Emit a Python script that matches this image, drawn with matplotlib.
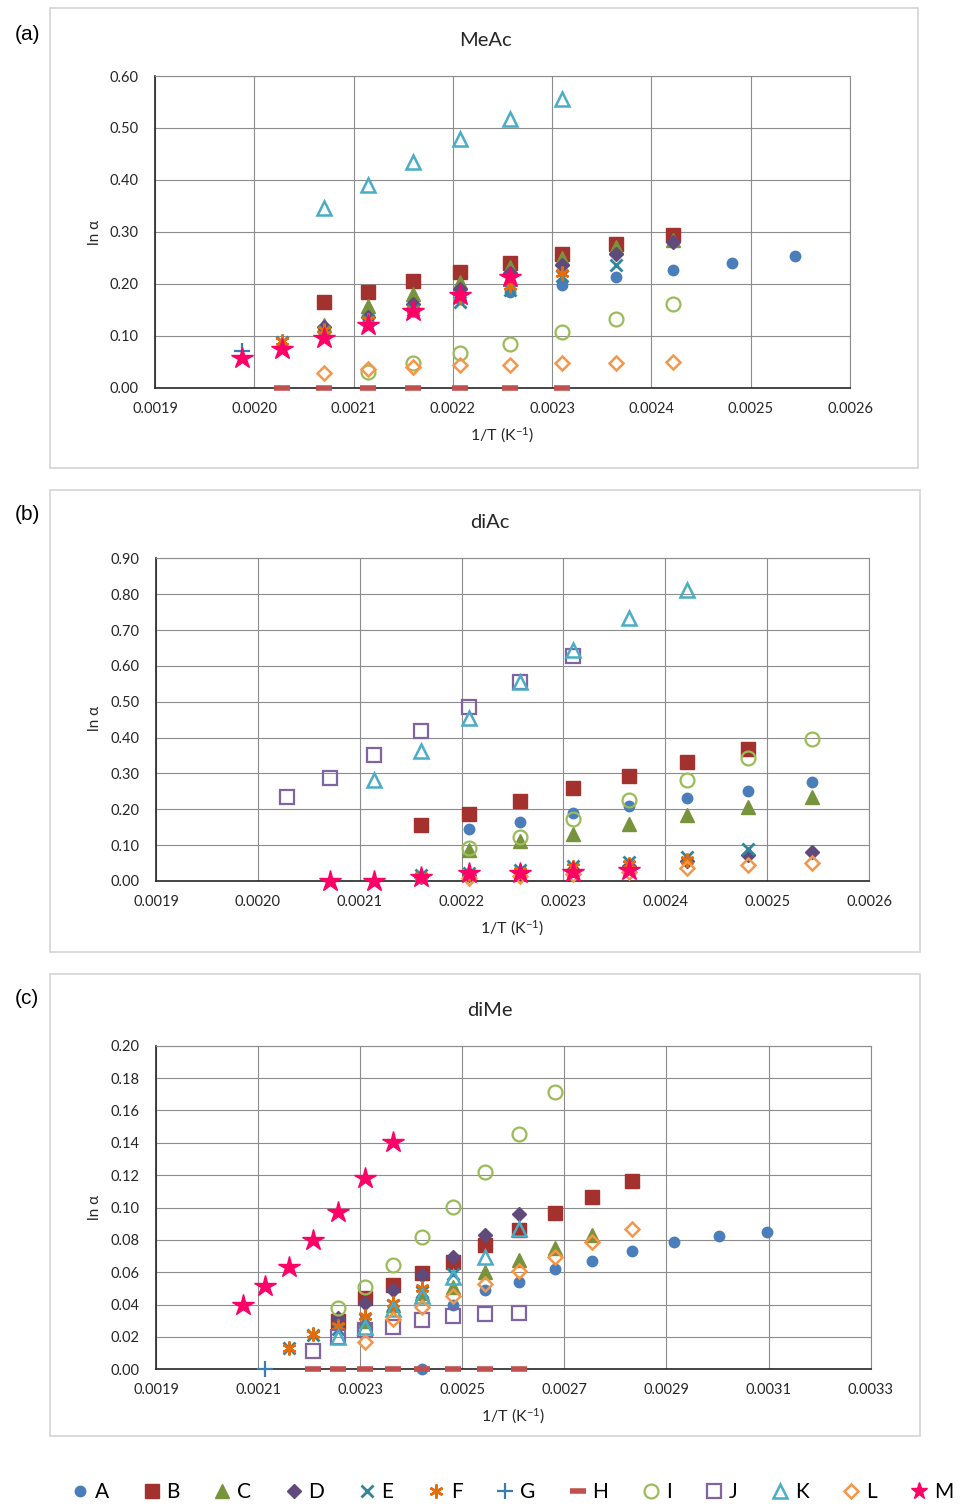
import numpy as np
import matplotlib
matplotlib.use('Agg')
import matplotlib.pyplot as plt
from matplotlib.patches import Rectangle
from matplotlib.lines import Line2D
from matplotlib.ticker import FormatStrFormatter, FixedLocator

plt.rcParams['font.family'] = ['Lato', 'DejaVu Sans']
plt.rcParams['mathtext.default'] = 'regular'

_ = None  # no measurement at this temperature

# ---- data: ln(alpha) vs temperature (K), one list per series ----
SERIES = ['A', 'B', 'C', 'D', 'E', 'F', 'G', 'H', 'I', 'J', 'K', 'L', 'M']

# (a) MeAc
T_MEAC = [503, 493, 483, 473, 463, 453, 443, 433, 423, 413, 403, 393]
MEAC_A = [_, _, .110, .130, .150, .170, .185, .198, .214, .226, .240, .253]
MEAC_B = [_, _, .165, .185, .205, .223, .240, .258, .276, .294, _, _]
MEAC_C = [_, _, .120, .157, .180, .204, .233, .249, .271, .284, _, _]
MEAC_D = [_, _, .117, .137, .162, .190, .220, .236, .258, .280, _, _]
MEAC_E = [_, .088, .110, .130, .150, .165, .188, .215, .236, _, _, _]
MEAC_F = [_, .090, .112, .130, .150, .175, .195, .220, _, _, _, _]
MEAC_G = [.070, _, _, _, _, _, _, _, _, _, _, _]
MEAC_H = [_, 0, 0, 0, 0, 0, 0, 0, _, _, _, _]
MEAC_I = [_, _, _, .031, .047, .066, .085, .108, .133, .162, _, _]
MEAC_J = [_, _, _, _, _, _, _, _, _, _, _, _]
MEAC_K = [_, _, .345, .390, .435, .478, .518, .555, _, _, _, _]
MEAC_L = [_, _, .029, .036, .040, .044, .044, .047, .048, .049, _, _]
MEAC_M = [.0565, .0745, .095, .120, .148, .178, .213, _, _, _, _, _]

# (b) diAc
T_DIAC = [503, 493, 483, 473, 463, 453, 443, 433, 423, 413, 403, 393]
DIAC_A = [_, _, _, _, _, .144, .165, .189, .209, .231, .252, .277]
DIAC_B = [_, _, _, _, .156, .187, .224, .260, .294, .331, .368, _]
DIAC_C = [_, _, _, _, _, .086, .112, .131, .159, .184, .207, .235]
DIAC_D = [_, _, _, _, .012, .018, .025, .032, .042, .055, .072, .080]
DIAC_E = [_, _, _, _, .018, .022, .032, .042, .052, .068, .088, _]
DIAC_F = [_, _, _, _, .015, .020, .028, .038, .048, .058, _, _]
DIAC_G = [_, _, _, _, _, _, _, _, _, _, _, _]
DIAC_H = [_, _, _, _, _, _, _, _, _, _, _, _]
DIAC_I = [_, _, _, _, _, .092, .124, .172, .226, .282, .342, .396]
DIAC_J = [_, .233, .287, .351, .418, .486, .556, .628, _, _, _, _]
DIAC_K = [_, _, _, .282, .363, .454, .556, .644, .733, .812, _, _]
DIAC_L = [_, _, _, _, _, .008, .015, .020, .025, .035, .045, .049]
DIAC_M = [_, _, .0, .0, .012, .021, .021, .026, .031, _, _, _]

# (c) diMe
T_DIME = [483, 473, 463, 453, 443, 433, 423, 413, 403, 393, 383, 373, 363, 353, 343, 333, 323]
DIME_A = [_, _, _, _, _, _, _, 0.0, .0397, .049, .0538, .062, .0669, .0731, .0785, .0824, .0847]
DIME_B = [_, _, _, _, .030, .044, .052, .0593, .0665, .0768, .086, .0964, .1063, .1166, _, _, _]
DIME_C = [_, _, _, _, _, .030, .040, .047, .051, .0603, .0675, .0748, .083, _, _, _, _]
DIME_D = [_, _, _, _, .032, .041, .049, .058, .0696, .083, .096, _, _, _, _, _, _]
DIME_E = [_, _, .013, .021, .025, .031, .040, .048, .059, _, _, _, _, _, _, _, _]
DIME_F = [_, _, .013, .022, .027, .033, .041, .050, _, _, _, _, _, _, _, _, _]
DIME_G = [_, 0.0, _, _, _, _, _, _, _, _, _, _, _, _, _, _, _]
DIME_H = [_, _, _, 0, 0, 0, 0, 0, 0, 0, 0, _, _, _, _, _, _]
DIME_I = [_, _, _, _, .038, .051, .0645, .082, .1005, .1217, .1452, .1716, _, _, _, _, _]
DIME_J = [_, _, _, .0115, .020, .024, .0263, .0305, .033, .034, .035, _, _, _, _, _, _]
DIME_K = [_, _, _, _, .020, .026, .037, .045, .057, .0696, .0865, _, _, _, _, _, _]
DIME_L = [_, _, _, _, _, .017, .031, .0387, .0453, .053, .0607, .0696, .0785, .0867, _, _, _]
DIME_M = [.0397, .0515, .0634, .0799, .0974, .118, .1407, _, _, _, _, _, _, _, _, _, _]

# marker style for each series (Excel-like scatter markers)
STYLE = {
    'A': dict(marker='o', color='#4A7EBB', ms=7.5),
    'B': dict(marker='s', color='#A3312D', ms=10),
    'C': dict(marker='^', color='#77933C', ms=10),
    'D': dict(marker='D', color='#604A7B', ms=7.5),
    'E': dict(marker='x', color='#31859C', ms=9, mew=2),
    'F': dict(marker=(6, 2, 0), color='#E46C0A', ms=10, mew=1.8),
    'G': dict(marker='+', color='#3A7DB5', ms=11, mew=1.6),
    'H': dict(marker='_', color='#C0504D', ms=11, mew=4),
    'I': dict(marker='o', color='#9BBB59', ms=10, mew=1.6, mfc='none'),
    'J': dict(marker='s', color='#8064A2', ms=10.5, mew=1.6, mfc='none'),
    'K': dict(marker='^', color='#4BACC6', ms=10, mew=1.8, mfc='none'),
    'L': dict(marker='D', color='#F79646', ms=7.5, mew=1.8, mfc='none'),
    'M': dict(marker='*', color='#FF0066', ms=16),
}

W, H = 962, 1506
fig = plt.figure(figsize=(W / 100, H / 100), dpi=100)


def fx(px):
    return px / W


def fy(py):
    return 1 - py / H


def marker_kw(st):
    kw = {}
    for k, v in st.items():
        if k == 'mew':
            kw['markeredgewidth'] = v
        elif k == 'mfc':
            kw['markerfacecolor'] = v
    return kw


panels = [
    dict(letter='(a)', title='MeAc', T=T_MEAC,
         data=[MEAC_A, MEAC_B, MEAC_C, MEAC_D, MEAC_E, MEAC_F, MEAC_G,
               MEAC_H, MEAC_I, MEAC_J, MEAC_K, MEAC_L, MEAC_M],
         box=(155, 76, 850, 387.7), frame=(50, 8, 918, 468),
         title_xy=(485, 40), letter_y=35, ylab_y=232, xlab_xy=(502, 435),
         xlim=(0.0019, 0.0026), xstep=0.0001, ylim=(0, 0.6), ystep=0.1),
    dict(letter='(b)', title='diAc', T=T_DIAC,
         data=[DIAC_A, DIAC_B, DIAC_C, DIAC_D, DIAC_E, DIAC_F, DIAC_G,
               DIAC_H, DIAC_I, DIAC_J, DIAC_K, DIAC_L, DIAC_M],
         box=(156, 558.3, 869, 881), frame=(50, 490, 920, 952),
         title_xy=(490, 523), letter_y=515, ylab_y=718, xlab_xy=(512, 928),
         xlim=(0.0019, 0.0026), xstep=0.0001, ylim=(0, 0.9), ystep=0.1),
    dict(letter='(c)', title='diMe', T=T_DIME,
         data=[DIME_A, DIME_B, DIME_C, DIME_D, DIME_E, DIME_F, DIME_G,
               DIME_H, DIME_I, DIME_J, DIME_K, DIME_L, DIME_M],
         box=(156, 1045.7, 870.7, 1369.3), frame=(50, 974, 920, 1436),
         title_xy=(490, 1010), letter_y=998, ylab_y=1207, xlab_xy=(513, 1416),
         xlim=(0.0019, 0.0033), xstep=0.0002, ylim=(0, 0.2), ystep=0.02),
]

for p in panels:
    # light chart-area border
    x0, y0, x1, y1 = p['frame']
    fig.add_artist(Rectangle((fx(x0), fy(y1)), fx(x1 - x0), (y1 - y0) / H,
                             transform=fig.transFigure, fill=False,
                             edgecolor='#d4d4d4', lw=1.2, zorder=-1))

    l, t, r, b = p['box']
    ax = fig.add_axes([fx(l), fy(b), fx(r - l), (b - t) / H])
    inv_t = 1.0 / np.array(p['T'], dtype=float)
    for name, vals in zip(SERIES, p['data']):
        y = np.array(vals, dtype=float)
        st = STYLE[name]
        ax.plot(inv_t, y, linestyle='none', marker=st['marker'],
                color=st['color'], markersize=st['ms'],
                clip_on=False, zorder=3, **marker_kw(st))

    ax.set_xlim(*p['xlim'])
    ax.set_ylim(*p['ylim'])
    xt = np.arange(p['xlim'][0], p['xlim'][1] + p['xstep'] / 2, p['xstep'])
    yt = np.arange(p['ylim'][0], p['ylim'][1] + p['ystep'] / 2, p['ystep'])
    ax.xaxis.set_major_locator(FixedLocator(xt))
    ax.yaxis.set_major_locator(FixedLocator(yt))
    ax.xaxis.set_major_formatter(FormatStrFormatter('%.4f'))
    ax.yaxis.set_major_formatter(FormatStrFormatter('%.2f'))
    ax.tick_params(length=0, labelsize=10.5, colors='#262626')
    ax.tick_params(axis='x', pad=10)
    ax.tick_params(axis='y', pad=12)
    ax.grid(True, color='#8c8c8c', lw=0.8)
    ax.set_axisbelow(True)
    for side in ('top', 'right'):
        ax.spines[side].set_color('#8c8c8c')
        ax.spines[side].set_linewidth(0.8)
    for side in ('left', 'bottom'):
        ax.spines[side].set_color('#262626')
        ax.spines[side].set_linewidth(1.2)

    fig.text(fx(p['title_xy'][0]), fy(p['title_xy'][1]), p['title'],
             ha='center', va='center', fontsize=14.5, color='#262626')
    fig.text(fx(27), fy(p['letter_y']), p['letter'], ha='center', va='center',
             fontsize=15, family=['Liberation Sans', 'DejaVu Sans'])
    fig.text(fx(95), fy(p['ylab_y']), 'ln α', ha='center', va='center',
             rotation=90, fontsize=11, color='#262626')
    fig.text(fx(p['xlab_xy'][0]), fy(p['xlab_xy'][1]), '1/T (K$^{-1}$)',
             ha='center', va='center', fontsize=11.5, color='#262626')

# shared legend along the bottom
handles = []
for name in SERIES:
    st = STYLE[name]
    ms = st['ms'] * (0.8 if name == 'M' else 1.0)
    handles.append(Line2D([], [], linestyle='none', marker=st['marker'],
                          color=st['color'], markersize=ms, **marker_kw(st)))
fig.legend(handles, SERIES, loc='center', bbox_to_anchor=(fx(512), fy(1492)),
           ncol=13, frameon=False, fontsize=15, handlelength=0.9,
           handletextpad=0.25, columnspacing=1.6, borderaxespad=0)

fig.savefig('out.png', dpi=100, facecolor='white')
